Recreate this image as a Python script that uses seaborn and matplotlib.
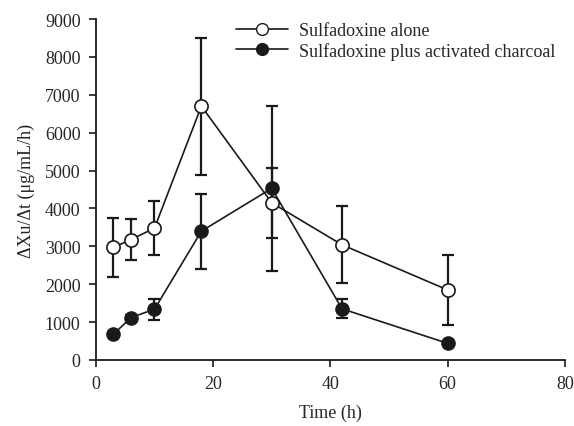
import matplotlib
matplotlib.use("Agg")
import matplotlib.pyplot as plt
import seaborn as sns
import pandas as pd
from matplotlib.lines import Line2D

time_alone = [3, 6, 10, 18, 30, 42, 60]
rate_alone = [2970, 3180, 3480, 6700, 4150, 3040, 1850]
err_alone = [770, 530, 720, 1810, 930, 1020, 920]

time_charcoal = [3, 6, 10, 18, 30, 42, 60]
rate_charcoal = [680, 1120, 1340, 3400, 4530, 1350, 440]
err_charcoal = [60, 60, 280, 990, 2170, 250, 60]

labels = ["Sulfadoxine alone", "Sulfadoxine plus activated charcoal"]

sns.set_style("ticks")
plt.rcParams['font.family'] = ['Liberation Serif', 'DejaVu Serif']
plt.rcParams['mathtext.fontset'] = 'stix'

FS = 13
fig = plt.figure(figsize=(5.74, 4.27), dpi=100)
ax = fig.add_axes([0.167, 0.1546, 0.817, 0.7985])

df_c = pd.DataFrame({"t": time_charcoal, "y": rate_charcoal})
df_a = pd.DataFrame({"t": time_alone, "y": rate_alone})

lw = 1.2
ink = '#1a1a1a'
ax.errorbar(time_charcoal, rate_charcoal, yerr=err_charcoal, fmt='none',
            ecolor=ink, elinewidth=1.6, capsize=4, capthick=1.6, zorder=2)
sns.lineplot(data=df_c, x="t", y="y", ax=ax, color=ink, lw=lw,
             marker='o', markersize=9.5, markerfacecolor=ink,
             markeredgecolor=ink, markeredgewidth=1.0, zorder=3)
ax.errorbar(time_alone, rate_alone, yerr=err_alone, fmt='none',
            ecolor=ink, elinewidth=1.6, capsize=4, capthick=1.6, zorder=4)
sns.lineplot(data=df_a, x="t", y="y", ax=ax, color=ink, lw=lw,
             marker='o', markersize=9.5, markerfacecolor='white',
             markeredgecolor=ink, markeredgewidth=1.2, zorder=5)

ax.set_xlim(0, 80)
ax.set_ylim(0, 9000)
ax.set_xticks([0, 20, 40, 60, 80])
ax.set_yticks(range(0, 9001, 1000))
ax.set_xlabel("Time (h)", fontsize=FS, labelpad=8)
ax.set_ylabel("ΔXu/Δt (μg/mL/h)", fontsize=FS, labelpad=7)
ax.tick_params(axis='both', labelsize=FS, direction='out', length=5, width=1.2, color=ink)
ax.tick_params(axis='y', pad=6)
ax.tick_params(axis='x', pad=6)
for s in ['left', 'bottom']:
    ax.spines[s].set_linewidth(1.3)
    ax.spines[s].set_color(ink)
sns.despine(ax=ax)

handles = [
    Line2D([], [], color=ink, lw=lw, marker='o', markersize=8.5,
           markerfacecolor='white', markeredgecolor=ink),
    Line2D([], [], color=ink, lw=lw, marker='o', markersize=8.5,
           markerfacecolor=ink, markeredgecolor=ink),
]
fig.legend(handles, labels, loc='upper left', bbox_to_anchor=(236 / 574, 1 - 23 / 427),
           frameon=False, fontsize=FS, handlelength=2.9, labelspacing=0.15,
           handletextpad=0.6, borderaxespad=0, borderpad=0)

fig.savefig("out.png", dpi=100)
